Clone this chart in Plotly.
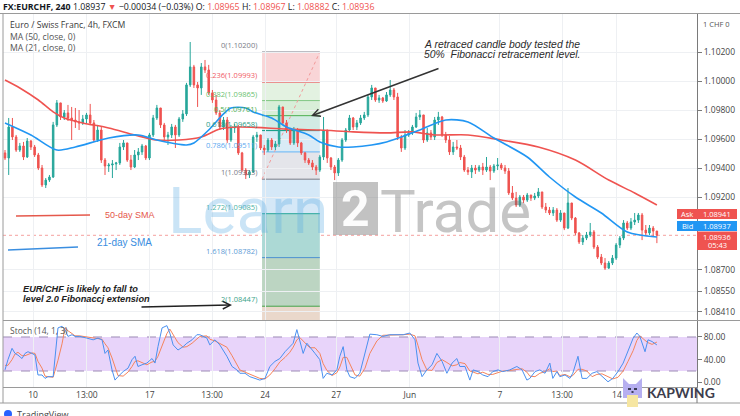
import plotly.graph_objects as go

# ------------------------------------------------------------------ DATA
# 4h EUR/CHF candles (bar index 0..176), open = previous close
bar_close = [
    1.09469, 1.09683, 1.09614, 1.09524, 1.09552, 1.09476, 1.09586, 1.09545, 1.09490, 1.09400,
    1.09283, 1.09317, 1.09338, 1.09697, 1.09849, 1.09752, 1.09780, 1.09745, 1.09731, 1.09718,
    1.09711, 1.09738, 1.09766, 1.09711, 1.09593, 1.09662, 1.09455, 1.09414, 1.09421, 1.09428,
    1.09435, 1.09545, 1.09573, 1.09455, 1.09407, 1.09490, 1.09511, 1.09552, 1.09469, 1.09628,
    1.09745, 1.09814, 1.09697, 1.09614, 1.09628, 1.09683, 1.09628, 1.09738, 1.09773, 1.09973,
    1.10097, 1.09973, 1.09952, 1.10097, 1.10076, 1.09918, 1.09869, 1.09780, 1.09683, 1.09731,
    1.09593, 1.09676, 1.09683, 1.09504, 1.09386, 1.09352, 1.09373, 1.09614, 1.09628, 1.09538,
    1.09524, 1.09593, 1.09545, 1.09566, 1.09821, 1.09711, 1.09662, 1.09573, 1.09662, 1.09573,
    1.09504, 1.09455, 1.09435, 1.09407, 1.09386, 1.09476, 1.09662, 1.09469, 1.09407, 1.09366,
    1.09455, 1.09593, 1.09662, 1.09745, 1.09683, 1.09711, 1.09745, 1.09766, 1.09890, 1.09952,
    1.09869, 1.09883, 1.09862, 1.09904, 1.09938, 1.09890, 1.09614, 1.09538, 1.09628, 1.09642,
    1.09683, 1.09752, 1.09766, 1.09593, 1.09642, 1.09614, 1.09731, 1.09752, 1.09628, 1.09593,
    1.09511, 1.09545, 1.09538, 1.09476, 1.09386, 1.09373, 1.09400, 1.09386, 1.09407, 1.09386,
    1.09407, 1.09379, 1.09414, 1.09421, 1.09400, 1.09379, 1.09228, 1.09193, 1.09145, 1.09200,
    1.09179, 1.09214, 1.09193, 1.09207, 1.09235, 1.09131, 1.09110, 1.09090, 1.09110, 1.09041,
    1.09090, 1.08986, 1.09159, 1.09055, 1.08952, 1.08890, 1.08917, 1.08938, 1.08959, 1.08855,
    1.08786, 1.08745, 1.08710, 1.08745, 1.08779, 1.08869, 1.08917, 1.09021, 1.08986, 1.09028,
    1.09041, 1.09076, 1.08972, 1.08952, 1.08986, 1.08965, 1.08936,
]
bar_high = [
    1.09524, 1.09745, 1.09745, 1.09628, 1.09573, 1.09580, 1.09607, 1.09593, 1.09559, 1.09504,
    1.09421, 1.09331, 1.09352, 1.09718, 1.09869, 1.09849, 1.09800, 1.09835, 1.09821, 1.09814,
    1.09800, 1.09766, 1.09780, 1.09842, 1.09731, 1.09697, 1.09683, 1.09469, 1.09435, 1.09455,
    1.09442, 1.09573, 1.09593, 1.09573, 1.09490, 1.09524, 1.09538, 1.09566, 1.09559, 1.09642,
    1.09766, 1.09835, 1.09814, 1.09711, 1.09649, 1.09704, 1.09697, 1.09752, 1.09800, 1.09987,
    1.10269, 1.10111, 1.09993, 1.10124, 1.10145, 1.10111, 1.09938, 1.09904, 1.09800, 1.09752,
    1.09752, 1.09697, 1.09704, 1.09697, 1.09511, 1.09400, 1.09386, 1.09628, 1.09649, 1.09628,
    1.09559, 1.09607, 1.09607, 1.09586, 1.09835, 1.09821, 1.09731, 1.09676, 1.09683, 1.09676,
    1.09580, 1.09511, 1.09469, 1.09455, 1.09421, 1.09490, 1.09752, 1.09662, 1.09476, 1.09421,
    1.09469, 1.09607, 1.09676, 1.09766, 1.09752, 1.09731, 1.09766, 1.09787, 1.09904, 1.09973,
    1.09952, 1.09904, 1.09890, 1.09924, 1.10007, 1.09952, 1.09918, 1.09628, 1.09662, 1.09662,
    1.09697, 1.09780, 1.09800, 1.09766, 1.09676, 1.09662, 1.09752, 1.09787, 1.09759, 1.09649,
    1.09621, 1.09580, 1.09593, 1.09559, 1.09490, 1.09407, 1.09421, 1.09421, 1.09421, 1.09435,
    1.09476, 1.09421, 1.09428, 1.09469, 1.09435, 1.09421, 1.09400, 1.09276, 1.09235, 1.09214,
    1.09214, 1.09228, 1.09214, 1.09228, 1.09262, 1.09235, 1.09159, 1.09131, 1.09131, 1.09124,
    1.09110, 1.09090, 1.09262, 1.09159, 1.09062, 1.08959, 1.08938, 1.08959, 1.09021, 1.08972,
    1.08869, 1.08807, 1.08779, 1.08759, 1.08800, 1.08883, 1.08931, 1.09041, 1.09035, 1.09055,
    1.09090, 1.09090, 1.09090, 1.09007, 1.09007, 1.09000, 1.08967,
]
bar_low = [
    1.09455, 1.09352, 1.09593, 1.09511, 1.09511, 1.09455, 1.09469, 1.09524, 1.09476, 1.09386,
    1.09269, 1.09262, 1.09304, 1.09331, 1.09683, 1.09731, 1.09731, 1.09724, 1.09593, 1.09676,
    1.09662, 1.09697, 1.09704, 1.09697, 1.09580, 1.09580, 1.09435, 1.09352, 1.09373, 1.09331,
    1.09386, 1.09421, 1.09524, 1.09442, 1.09386, 1.09400, 1.09455, 1.09490, 1.09455, 1.09455,
    1.09614, 1.09731, 1.09676, 1.09593, 1.09559, 1.09607, 1.09538, 1.09614, 1.09718, 1.09759,
    1.09959, 1.09952, 1.09821, 1.09904, 1.10055, 1.09904, 1.09849, 1.09766, 1.09662, 1.09662,
    1.09573, 1.09580, 1.09642, 1.09490, 1.09373, 1.09324, 1.09331, 1.09366, 1.09580, 1.09524,
    1.09490, 1.09511, 1.09524, 1.09524, 1.09545, 1.09697, 1.09642, 1.09559, 1.09559, 1.09545,
    1.09490, 1.09435, 1.09421, 1.09386, 1.09352, 1.09373, 1.09455, 1.09435, 1.09386, 1.09317,
    1.09345, 1.09442, 1.09580, 1.09649, 1.09662, 1.09662, 1.09697, 1.09731, 1.09752, 1.09869,
    1.09856, 1.09849, 1.09849, 1.09856, 1.09890, 1.09869, 1.09593, 1.09511, 1.09524, 1.09614,
    1.09628, 1.09676, 1.09731, 1.09573, 1.09580, 1.09593, 1.09593, 1.09697, 1.09614, 1.09573,
    1.09490, 1.09490, 1.09524, 1.09455, 1.09373, 1.09352, 1.09331, 1.09359, 1.09373, 1.09352,
    1.09373, 1.09317, 1.09366, 1.09386, 1.09386, 1.09359, 1.09214, 1.09179, 1.09131, 1.09131,
    1.09159, 1.09166, 1.09173, 1.09179, 1.09193, 1.09117, 1.09090, 1.09076, 1.09069, 1.09028,
    1.09028, 1.08972, 1.08979, 1.09041, 1.08938, 1.08876, 1.08869, 1.08903, 1.08924, 1.08841,
    1.08773, 1.08731, 1.08697, 1.08704, 1.08731, 1.08766, 1.08848, 1.08903, 1.08972, 1.08972,
    1.09007, 1.09021, 1.08903, 1.08931, 1.08938, 1.08924, 1.08882,
]
first_open = 1.09504
bar_open = [first_open] + bar_close[:-1]
bar_idx = list(range(len(bar_close)))

# moving averages (bar index, value)
ma50_idx = [0, 4, 9, 13, 16, 21, 28, 35, 41, 47, 53, 58, 63, 76, 85, 94, 103, 110, 116, 125,
            134, 144, 154, 163, 170, 176]
ma50_val = [1.10007, 1.09952, 1.09869, 1.09787, 1.09745, 1.09711, 1.09676, 1.09628, 1.09593,
            1.09593, 1.09614, 1.09669, 1.09683, 1.09669, 1.09662, 1.09649, 1.09642, 1.09649,
            1.09628, 1.09628, 1.09593, 1.09545, 1.09455, 1.09317, 1.09228, 1.09145]
ma21_idx = [0, 7, 14, 19, 28, 36, 41, 49, 51, 55, 59, 61, 65, 67, 72, 76, 82, 85, 90, 94, 99,
            103, 107, 112, 119, 125, 132, 141, 147, 154, 161, 168, 176]
ma21_val = [1.09711, 1.09628, 1.09524, 1.09545, 1.09607, 1.09628, 1.09593, 1.09559, 1.09573,
            1.09662, 1.09773, 1.09814, 1.09814, 1.09787, 1.09745, 1.09683, 1.09628, 1.09580,
            1.09545, 1.09545, 1.09559, 1.09580, 1.09614, 1.09662, 1.09731, 1.09718, 1.09607,
            1.09476, 1.09338, 1.09200, 1.09090, 1.08959, 1.08924]

# stochastic (14,1,3)
stoch_idx = [0, 0.8, 1.9, 2.7, 3.5, 4.6, 5.4, 6.2, 7.3, 8.1, 8.9, 10, 10.8, 11.6, 13, 14.3, 15.4,
             16.2, 17, 18.1, 18.9, 20.2, 22.1, 23.8, 25.1, 26.2, 27, 27.8, 28.9, 29.7, 30.5, 31.9,
             33.2, 34.3, 35.1, 35.9, 37, 38.3, 39.7, 40.5, 41.3, 42.4, 43.7, 44.5, 45.4, 46.7,
             48.1, 49.1, 50.5, 51.8, 52.6, 54.5, 55.3, 56.7, 58, 59.9, 61.3, 62.6, 63.4, 64.8,
             66.1, 67.5, 68.8, 70.2, 71.5, 72.9, 74.2, 75.6, 76.9, 77.8, 78.8, 79.6, 80.5, 81.5,
             82.3, 83.7, 85, 85.9, 86.9, 88.3, 89.6, 90.4, 91.3, 92.3, 93.1, 94.5, 95.8, 97.2,
             98.5, 100.4, 102, 103.9, 105.8, 107.5, 109.3, 110.7, 111.5, 112.6, 113.9, 115.3,
             116.6, 118, 119.3, 120.7, 122, 122.8, 124.2, 125.5, 126.4, 127.7, 129, 130.4, 131.7,
             133.1, 134.4, 136.3, 138.2, 139.6, 140.9, 141.7, 143.1, 144.4, 145.8, 147.1, 147.9,
             149, 149.8, 151.2, 152.5, 153.3, 154.7, 155.8, 157.1, 158.5, 159.8, 161.2, 162.8,
             164.1, 165.5, 166.9, 168.2, 169.6, 170.6, 171.4, 172.8, 173.6, 174.7, 176]
stoch_k = [22, 40, 60, 51, 48, 42, 51, 54, 51, 48, 13, 13, 7, 10, 10, 96, 99, 93, 81, 84,
           81, 81, 78, 75, 78, 75, 51, 57, 22, 4, 10, 19, 25, 40, 46, 28, 31, 34, 42, 34,
           63, 96, 100, 87, 66, 57, 63, 69, 75, 84, 84, 78, 66, 75, 66, 46, 28, 22, 16, 16,
           10, 7, 4, 7, 28, 37, 42, 54, 63, 69, 93, 75, 51, 69, 63, 51, 40, 7, 16, 13,
           22, 46, 63, 22, 10, 7, 16, 51, 85, 84, 81, 84, 84, 84, 87, 75, 34, 10, 22, 31,
           51, 37, 16, 34, 42, 28, 28, 4, 22, 19, 13, 10, 19, 22, 19, 22, 28, 22, 4, 7,
           19, 22, 16, 34, 7, 19, 10, 13, 7, 16, 46, 7, 7, 16, 19, 10, 1, 7, 19, 34,
           57, 78, 87, 81, 54, 75, 72, 66]
stoch_d = [30, 30, 40, 50, 53, 47, 47, 49, 52, 51, 37, 25, 11, 10, 9, 39, 68, 96, 91, 86,
           82, 82, 80, 78, 77, 76, 68, 61, 43, 28, 12, 11, 18, 28, 37, 38, 35, 31, 36, 37,
           46, 64, 86, 94, 84, 70, 62, 63, 69, 76, 81, 82, 76, 73, 69, 62, 47, 32, 22, 18,
           14, 11, 7, 6, 13, 24, 36, 44, 53, 62, 75, 79, 73, 65, 61, 61, 51, 33, 21, 12,
           17, 27, 44, 44, 32, 13, 11, 25, 51, 73, 83, 83, 83, 84, 85, 82, 65, 40, 22, 21,
           35, 40, 35, 29, 31, 35, 33, 20, 18, 15, 18, 14, 14, 17, 20, 21, 23, 24, 18, 11,
           10, 16, 19, 24, 19, 20, 12, 14, 10, 12, 23, 23, 20, 10, 14, 15, 10, 6, 9, 20,
           37, 56, 74, 82, 74, 70, 67, 71]

# Fibonacci tool
fib_levels = ['0', '0.236', '0.382', '0.5', '0.618', '0.786', '1', '1.272', '1.618', '2', '2.618']
fib_prices = [1.10200, 1.09993, 1.09865, 1.09761, 1.09658, 1.09511, 1.09323, 1.09085, 1.08782,
              1.08447, 1.07905]
fib_start_bar, fib_end_bar = 69.4, 85.0

# axis ticks
time_tick_pos = [7.56, 22.1, 39.1, 55.9, 70.2, 89.4, 109.3, 133.6, 150.4, 165.2]
time_tick_text = ['10', '13:00', '17', '13:00', '24', '27', 'Jun', '7', '13:00', '14']
price_ticks = [1.08410, 1.08550, 1.08700, 1.09200, 1.09400, 1.09600, 1.09800, 1.10000, 1.10200]
price_tick_text = ['%.5f' % v for v in price_ticks]
stoch_ticks = [0, 40, 80]
stoch_tick_text = ['0.00', '40.00', '80.00']

last_price = 1.08936
ask_price, bid_price = '1.08941', '1.08937'

# ------------------------------------------------------------------ STYLE / GEOMETRY
W, H = 740, 416
PL, PR, PT, PB = 3, 697, 14, 387
UP, DN = '#26a69a', '#ef5350'
GRID = '#eef0f3'
AXC = '#7a7a7a'


def px(x):
    return (x - PL) / (PR - PL)


def py(y):
    return (PB - y) / (PB - PT)


def pt(x, y):
    return '%.5f,%.5f' % (px(x), py(y))


x_lo, x_hi = -0.54, 186.83

fig = go.Figure()

fig.add_trace(go.Candlestick(
    x=bar_idx, open=bar_open, high=bar_high, low=bar_low, close=bar_close,
    increasing=dict(line=dict(color=UP, width=1), fillcolor=UP),
    decreasing=dict(line=dict(color=DN, width=1), fillcolor=DN),
    whiskerwidth=0, hoverinfo='skip', showlegend=False, xaxis='x', yaxis='y'))

fig.add_trace(go.Scatter(x=ma50_idx, y=ma50_val, mode='lines',
                         line=dict(color='#ef5350', width=1.6, shape='spline', smoothing=0.8),
                         hoverinfo='skip', xaxis='x', yaxis='y'))
fig.add_trace(go.Scatter(x=ma21_idx, y=ma21_val, mode='lines',
                         line=dict(color='#2196f3', width=1.6, shape='spline', smoothing=0.8),
                         hoverinfo='skip', xaxis='x', yaxis='y'))

fig.add_trace(go.Scatter(x=stoch_idx, y=stoch_d, mode='lines',
                         line=dict(color='#f5845c', width=1), hoverinfo='skip',
                         xaxis='x2', yaxis='y2'))
fig.add_trace(go.Scatter(x=stoch_idx, y=stoch_k, mode='lines',
                         line=dict(color='#4a90f0', width=1), hoverinfo='skip',
                         xaxis='x2', yaxis='y2'))

shapes = []
annos = []

# --- Fibonacci zones and lines
zone_colors = ['#f9d5d7', '#e3f2e1', '#d8eed8', '#d2ebe4', '#d9ebf6', '#e4e5ea',
               '#d5e8f7', '#acd9d5', '#bcd5c2', '#ead8cb']
line_colors = ['#787b86', '#f23645', '#81c784', '#4caf50', '#089981', '#64b5f6',
               '#787b86', '#26a69a', '#4a8fd0', '#43a047', '#f23645']
label_colors = ['#787b86', '#f05a64', '#6abf6e', '#4caf50', '#2a9d86', '#5aa9ef',
                '#787b86', '#4db3a6', '#5b9bd5', '#3ba38a', '#f23645']
for i in range(len(fib_prices) - 1):
    shapes.append(dict(type='rect', xref='x', yref='y', x0=fib_start_bar, x1=fib_end_bar,
                       y0=fib_prices[i + 1], y1=fib_prices[i], fillcolor=zone_colors[i],
                       line=dict(width=0), layer='below'))
for i in range(len(fib_prices)):
    shapes.append(dict(type='line', xref='x', yref='y', x0=fib_start_bar, x1=fib_end_bar,
                       y0=fib_prices[i], y1=fib_prices[i],
                       line=dict(color=line_colors[i], width=1), layer='below'))
    if i < len(fib_prices) - 1:
        annos.append(dict(xref='x', yref='y', x=fib_start_bar - 0.8, y=fib_prices[i],
                          xanchor='right', yanchor='bottom', showarrow=False,
                          text='%s(%.5f)' % (fib_levels[i], fib_prices[i]),
                          font=dict(size=7.5, color=label_colors[i])))
shapes.append(dict(type='line', xref='x', yref='y', x0=fib_start_bar, x1=fib_end_bar,
                   y0=fib_prices[6], y1=fib_prices[0],
                   line=dict(color='#f29a9a', width=1, dash='dot'), layer='below'))

# last price line
shapes.append(dict(type='line', xref='paper', yref='y', x0=0, x1=1, y0=last_price, y1=last_price,
                   line=dict(color='rgba(239,83,80,0.55)', width=1, dash='dot'), layer='below'))

# stochastic band
shapes.append(dict(type='rect', xref='paper', yref='y2', x0=0, x1=1, y0=20, y1=80,
                   fillcolor='#e8d4fa', line=dict(width=0), layer='below'))
for lv in (20, 80):
    shapes.append(dict(type='line', xref='paper', yref='y2', x0=0, x1=1, y0=lv, y1=lv,
                       line=dict(color='#9d8bb5', width=1, dash='dash'), layer='below'))

# frame lines
shapes += [
    dict(type='line', xref='paper', yref='paper', x0=px(0), x1=px(740), y0=py(13.5), y1=py(13.5),
         line=dict(color='#9a9a9a', width=1)),
    dict(type='line', xref='paper', yref='paper', x0=px(3), x1=px(3), y0=py(13.5), y1=py(403),
         line=dict(color='#9a9a9a', width=1)),
    dict(type='line', xref='paper', yref='paper', x0=px(3), x1=px(740), y0=py(320.5), y1=py(320.5),
         line=dict(color='#9a9a9a', width=1)),
    dict(type='line', xref='paper', yref='paper', x0=px(0), x1=px(740), y0=py(403), y1=py(403),
         line=dict(color='#9a9a9a', width=1)),
    dict(type='line', xref='paper', yref='paper', x0=px(697), x1=px(697), y0=py(387), y1=py(403),
         line=dict(color=AXC, width=1)),
]


# ask / bid / price boxes
def box(x0, x1, y0, y1, color):
    return dict(type='rect', xref='paper', yref='paper', x0=px(x0), x1=px(x1), y0=py(y1), y1=py(y0),
                fillcolor=color, line=dict(width=0))


shapes += [box(677, 697, 209, 219, '#ef5350'), box(697, 737, 209, 219, '#ef5350'),
           box(677, 697, 221, 231, '#2196f3'), box(697, 737, 221, 231, '#2196f3'),
           box(697, 737, 231.5, 250, '#ef5350')]


def txt(x, y, s, size=8, color='#4a4a4a', xanchor='left', family=None, **kw):
    f = dict(size=size, color=color)
    if family:
        f['family'] = family
    d = dict(xref='paper', yref='paper', x=px(x), y=py(y), xanchor=xanchor, yanchor='middle',
             text=s, showarrow=False, font=f, borderpad=0)
    d.update(kw)
    return d


annos += [
    txt(687, 214, 'Ask', 7.5, 'white', 'center'), txt(717, 214, ask_price, 7.5, 'white', 'center'),
    txt(687, 226, 'Bid', 7.5, 'white', 'center'), txt(717, 226, bid_price, 7.5, 'white', 'center'),
    txt(717, 236.5, '%.5f' % last_price, 7.5, 'white', 'center'),
    txt(717, 245, '05:43', 7.5, 'white', 'center'),
    txt(716, 24, '1 CHF 0', 7.5, '#555', 'center'),
]

# header + legend
annos += [
    txt(2, 7, "<b>FX:EURCHF, 240</b> 1.08937 <span style='color:#ef5350'>▼</span> −0.00034 (−0.03%) "
              "O: <span style='color:#ef5350'>1.08965</span> H: <span style='color:#ef5350'>1.08967</span> "
              "L: <span style='color:#ef5350'>1.08882</span> C: <span style='color:#ef5350'>1.08936</span>",
        8.8, '#131722'),
    txt(9, 25, 'Euro / Swiss Franc, 4h, FXCM', 8.7, '#3a3a3a'),
    txt(9, 37, 'MA (50, close, 0)', 8.7, '#555'),
    txt(9, 48.5, 'MA (21, close, 0)', 8.7, '#555'),
    txt(9, 330, 'Stoch (14, 1, 3)', 8.5, '#555'),
]

# commentary
annos += [
    txt(423, 44, '<i>A retraced candle body tested the</i>', 10.4, '#2b2b2b', family='Liberation Sans'),
    txt(423, 55, '<i>50%  Fibonacci retracement level.</i>', 10.4, '#2b2b2b', family='Liberation Sans'),
    txt(22, 289, '<b><i>EUR/CHF is likely to fall to</i></b>', 9.2, '#222', family='Liberation Sans'),
    txt(22, 299, '<b><i>level 2.0 Fibonaccj extension</i></b>', 9.2, '#222', family='Liberation Sans'),
    txt(130, 215, '50-day SMA', 9, '#e5584b', 'center', family='Liberation Sans'),
    txt(124, 242, '21-day SMA', 10, '#3a8ee0', 'center', family='Liberation Sans'),
    dict(xref='paper', yref='paper', x=px(311), y=py(116), ax=129, ay=-48, text='', showarrow=True,
         arrowhead=5, arrowsize=1, arrowwidth=1.5, arrowcolor='#333', standoff=0),
    dict(xref='paper', yref='paper', x=px(232), y=py(305), ax=-92, ay=2, text='', showarrow=True,
         arrowhead=5, arrowsize=1, arrowwidth=1.5, arrowcolor='#222', standoff=0),
]
shapes += [
    dict(type='line', xref='paper', yref='paper', x0=px(16), x1=px(90), y0=py(216), y1=py(215),
         line=dict(color='#e5584b', width=1.5)),
    dict(type='line', xref='paper', yref='paper', x0=px(8), x1=px(78), y0=py(250), y1=py(247),
         line=dict(color='#3a8ee0', width=1.5)),
]

# Learn2Trade watermark
shapes.append(dict(type='rect', xref='paper', yref='paper', x0=px(333), x1=px(378), y0=py(235),
                   y1=py(182), fillcolor='rgba(120,120,120,0.45)', line=dict(width=0)))
annos += [
    txt(329, 211, 'Learn', 64, 'rgba(90,170,228,0.32)', 'right', family='Roboto'),
    txt(355.5, 209, '<b>2</b>', 50, 'rgba(255,255,255,0.95)', 'center', family='Roboto'),
    txt(379, 211, 'Trade', 60, 'rgba(110,110,110,0.4)', 'left', family='Roboto'),
]

# Kapwing badge
shapes += [
    dict(type='path', xref='paper', yref='paper',
         path='M %s L %s L %s L %s L %s L %s Z' % (pt(623, 398), pt(623, 378), pt(629, 384),
                                                   pt(636, 384), pt(642, 378), pt(642, 398)),
         fillcolor='#b6aff0', line=dict(width=0)),
    box(627, 638, 395, 407, '#f6e6a2'),
    box(628, 631, 388, 390, '#3b3b55'), box(634, 637, 388, 390, '#3b3b55'),
    box(631.5, 633.5, 391, 393, '#3b3b55'),
]
annos.append(txt(646, 392, '<b>KAPWING</b>', 14, '#3d3d4d', family='Lato'))

# TradingView logo (cut off)
shapes.append(dict(type='circle', xref='paper', yref='paper', x0=px(4), x1=px(12), y0=py(418),
                   y1=py(410), fillcolor='#2962ff', line=dict(width=0)))
annos.append(txt(16, 414, 'TradingView', 9, '#444'))

fig.update_layout(
    width=W, height=H,
    margin=dict(l=PL, r=W - PR, t=PT, b=H - PB, pad=0),
    paper_bgcolor='white', plot_bgcolor='white',
    font=dict(family='Open Sans, sans-serif', size=8, color='#4a4a4a'),
    showlegend=False,
    boxgap=0.42,
    xaxis=dict(domain=[0, 1], anchor='y', range=[x_lo, x_hi], showticklabels=False,
               tickvals=time_tick_pos, showgrid=True, gridcolor=GRID, zeroline=False,
               rangeslider=dict(visible=False), showline=False, ticks=''),
    yaxis=dict(domain=[py(320), 1], anchor='x', side='right', range=[1.08352, 1.10462],
               tickvals=price_ticks, ticktext=price_tick_text, showgrid=True, gridcolor=GRID,
               zeroline=False, showline=True, linecolor=AXC, ticks='outside', ticklen=4,
               tickcolor=AXC, tickfont=dict(size=8.5, color='#444')),
    xaxis2=dict(domain=[0, 1], anchor='y2', range=[x_lo, x_hi], tickvals=time_tick_pos,
                ticktext=time_tick_text, showgrid=True, gridcolor=GRID, zeroline=False,
                showline=True, linecolor='#9a9a9a', ticks='', tickfont=dict(size=8.5, color='#444')),
    yaxis2=dict(domain=[0, py(321)], anchor='x2', side='right', range=[-8.2, 108.2],
                tickvals=stoch_ticks, ticktext=stoch_tick_text, showgrid=False, zeroline=False,
                showline=True, linecolor=AXC, ticks='outside', ticklen=4, tickcolor=AXC,
                tickfont=dict(size=8.5, color='#444')),
    shapes=shapes,
    annotations=annos,
)

fig.write_html('out.html', config={'displayModeBar': False},
               post_script="document.body.style.margin='0';document.body.style.overflow='hidden';")
